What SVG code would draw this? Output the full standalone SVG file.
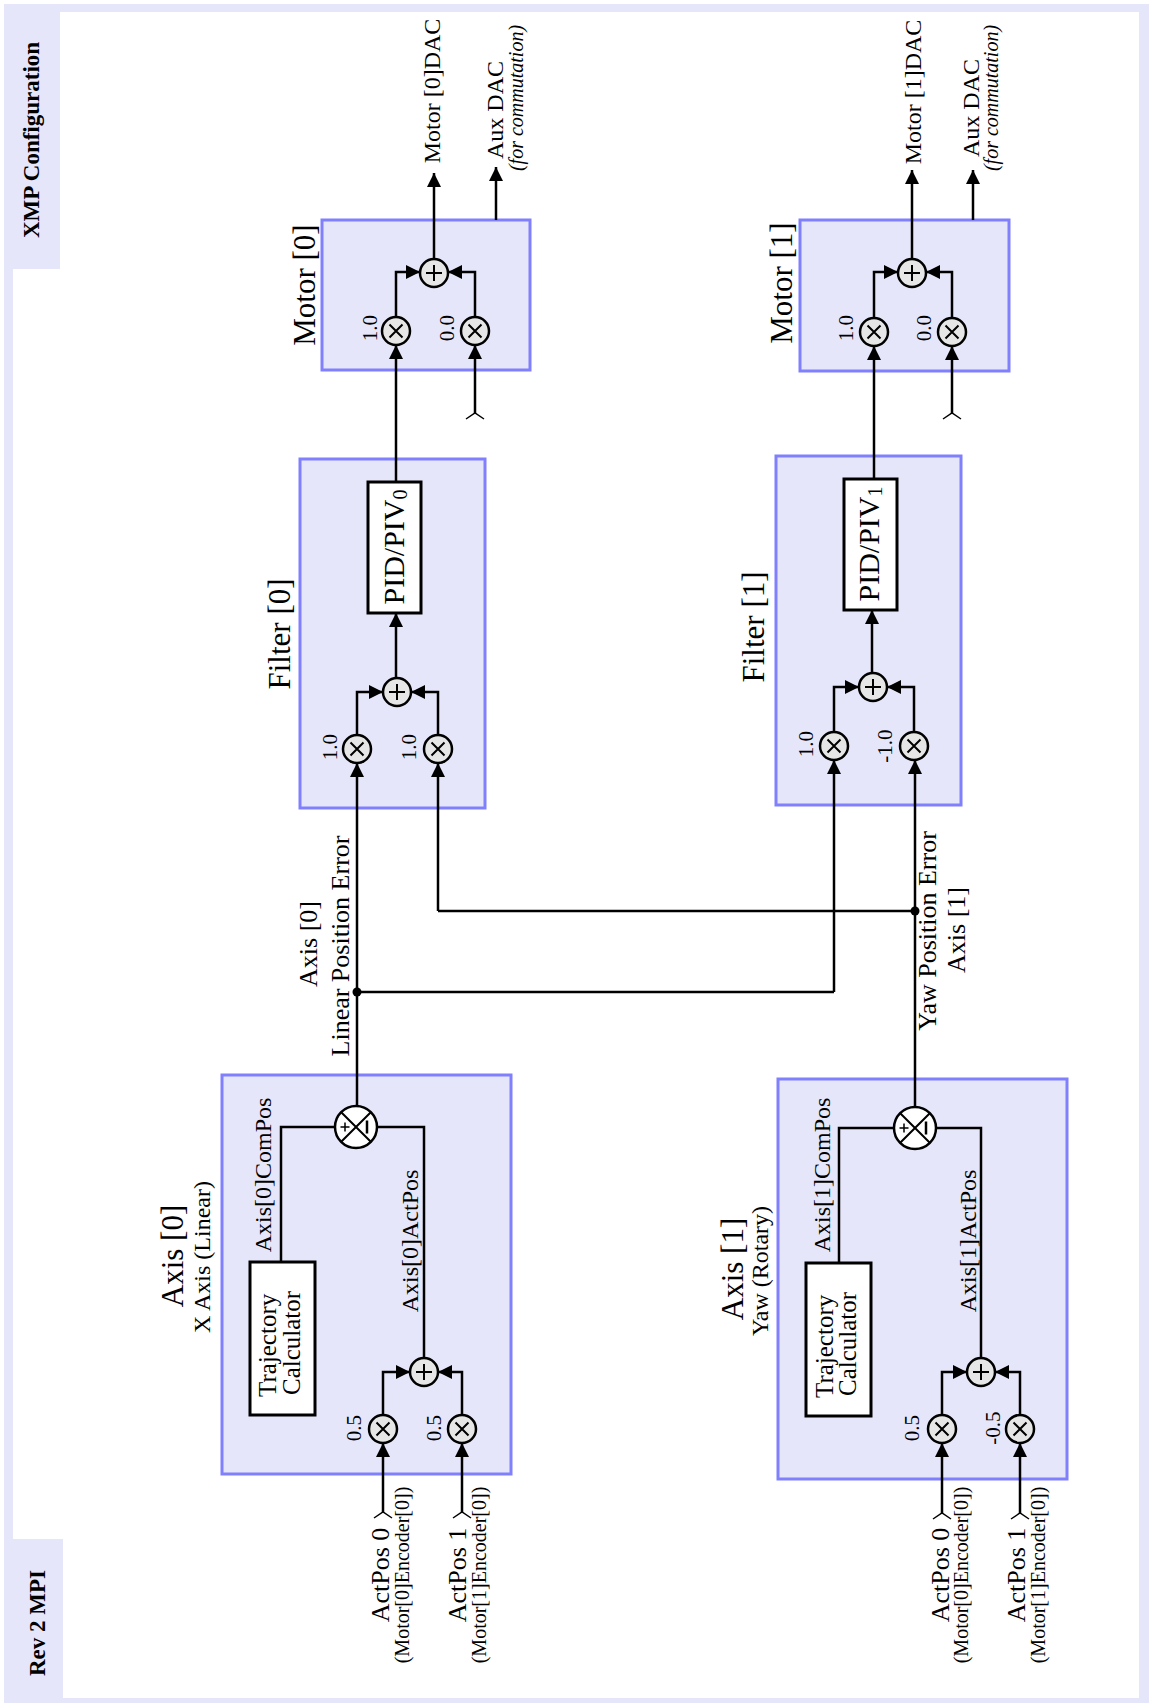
<svg xmlns="http://www.w3.org/2000/svg" xmlns:xlink="http://www.w3.org/1999/xlink" width="1149" height="1703" viewBox="0 0 1149 1703">
<style>
text{font-family:"Liberation Serif","Times New Roman",serif;fill:#000;dominant-baseline:central;text-anchor:middle}
.bold{font-weight:bold;font-size:23px}
.title{font-size:31px}
.sub{font-size:24px}
.mid{font-size:26px}
.small{font-size:20px}
.gain{font-size:21px}
.ital{font-size:20px;font-style:italic}
.traj{font-size:25px;text-anchor:start}
.box{fill:#e6e6fa;stroke:#8080ff;stroke-width:3}
.blk{fill:#fff;stroke:#000;stroke-width:3}
.ln{fill:none;stroke:#000;stroke-width:2.5}
.arr{fill:none;stroke:#000;stroke-width:2.5;marker-end:url(#ah)}
.stub{fill:none;stroke:#000;stroke-width:1.5}
.sym{fill:#e6e6e6;stroke:#000;stroke-width:2.5}
.in{fill:none;stroke:#000;stroke-width:2}
</style>
<defs>
<marker id="ah" viewBox="0 0 14 14" refX="14" refY="7" markerWidth="14" markerHeight="14" markerUnits="userSpaceOnUse" orient="auto">
<path d="M0,0 L14,7 L0,14 z" fill="#000"/>
</marker>
<g id="mul"><circle r="14" class="sym"/><path d="M-6.5,-6.5 L6.5,6.5 M-6.5,6.5 L6.5,-6.5" class="in"/></g>
<g id="add"><circle r="14" class="sym"/><path d="M-8,0 H8 M0,-8 V8" class="in"/></g>
<g id="junc"><circle r="21" fill="#fff" stroke="#000" stroke-width="2.5"/><path d="M-14.8,-14.8 L14.8,14.8 M-14.8,14.8 L14.8,-14.8" class="in"/><path d="M-15.5,0 H-6.5 M-11,-4.5 V4.5" fill="none" stroke="#000" stroke-width="1.5"/><path d="M11,-6.5 V6.5" fill="none" stroke="#000" stroke-width="2.5"/></g>
</defs>

<!-- frame -->
<g id="frame">
<rect x="4" y="4" width="1145" height="1699" fill="#e6e6fa"/>
<rect x="13" y="12" width="1126" height="1686" fill="#fff"/>
<rect x="13" y="12" width="47" height="257" fill="#e6e6fa"/>
<rect x="13" y="1539" width="50" height="159" fill="#e6e6fa"/>
<text class="bold" transform="translate(31 140) rotate(-90)">XMP Configuration</text>
<text class="bold" transform="translate(37 1623) rotate(-90)">Rev 2 MPI</text>
</g>

<!-- Motor [0] -->
<g id="motor0">
<rect class="box" x="322" y="220" width="208" height="150"/>
<text class="title" transform="translate(304 285) rotate(-90)">Motor [0]</text>
<use xlink:href="#add" x="434" y="273"/>
<use xlink:href="#mul" x="396" y="331"/>
<use xlink:href="#mul" x="475" y="331"/>
<text class="gain" transform="translate(370 328) rotate(-90)">1.0</text>
<text class="gain" transform="translate(447 328) rotate(-90)">0.0</text>
<text class="sub" transform="translate(432 91) rotate(-90)">Motor [0]DAC</text>
<text class="sub" transform="translate(495 110) rotate(-90)">Aux DAC</text>
<text class="ital" transform="translate(516 98) rotate(-90)">(for commutation)</text>
</g>

<!-- Motor [1] -->
<g id="motor1">
<rect class="box" x="800" y="220" width="209" height="151"/>
<text class="title" transform="translate(781 283) rotate(-90)">Motor [1]</text>
<use xlink:href="#add" x="912" y="273"/>
<use xlink:href="#mul" x="874" y="332"/>
<use xlink:href="#mul" x="952" y="332"/>
<text class="gain" transform="translate(846 328) rotate(-90)">1.0</text>
<text class="gain" transform="translate(924 328) rotate(-90)">0.0</text>
<text class="sub" transform="translate(913 92) rotate(-90)">Motor [1]DAC</text>
<text class="sub" transform="translate(971 108) rotate(-90)">Aux DAC</text>
<text class="ital" transform="translate(991 98) rotate(-90)">(for commutation)</text>
</g>

<!-- Filter [0] -->
<g id="filter0">
<rect class="box" x="300" y="459" width="185" height="349"/>
<text class="title" transform="translate(279 634) rotate(-90)">Filter [0]</text>
<rect class="blk" x="368" y="482" width="53" height="131"/>
<text class="title" style="font-size:30px" transform="translate(393 547) rotate(-90)">PID/PIV<tspan font-size="20" dy="7">0</tspan></text>
<use xlink:href="#add" x="397" y="692"/>
<use xlink:href="#mul" x="357" y="749"/>
<use xlink:href="#mul" x="438" y="749"/>
<text class="gain" transform="translate(330 747) rotate(-90)">1.0</text>
<text class="gain" transform="translate(409 747) rotate(-90)">1.0</text>
</g>

<!-- Filter [1] -->
<g id="filter1">
<rect class="box" x="776" y="456" width="185" height="349"/>
<text class="title" transform="translate(753 627) rotate(-90)">Filter [1]</text>
<rect class="blk" x="844" y="479" width="53" height="131"/>
<text class="title" style="font-size:30px" transform="translate(868 544) rotate(-90)">PID/PIV<tspan font-size="20" dy="7">1</tspan></text>
<use xlink:href="#add" x="873" y="687"/>
<use xlink:href="#mul" x="834" y="746"/>
<use xlink:href="#mul" x="914" y="746"/>
<text class="gain" transform="translate(806 744) rotate(-90)">1.0</text>
<text class="gain" transform="translate(885 746) rotate(-90)">-1.0</text>
</g>

<!-- Axis [0] -->
<g id="axis0">
<rect class="box" x="222" y="1075" width="289" height="399"/>
<text class="title" transform="translate(172 1256) rotate(-90)">Axis [0]</text>
<text class="sub" transform="translate(202 1257) rotate(-90)">X Axis (Linear)</text>
<rect class="blk" x="250" y="1262" width="65" height="153"/>
<text class="traj" transform="translate(267 1397) rotate(-90)">Trajectory</text>
<text class="traj" transform="translate(291 1395) rotate(-90)">Calculator</text>
<text class="sub" transform="translate(263 1175) rotate(-90)">Axis[0]ComPos</text>
<text class="sub" transform="translate(410 1241) rotate(-90)">Axis[0]ActPos</text>
<use xlink:href="#junc" x="356" y="1127"/>
<use xlink:href="#add" x="424" y="1372"/>
<use xlink:href="#mul" x="383" y="1429"/>
<use xlink:href="#mul" x="462" y="1429"/>
<text class="gain" transform="translate(354 1428) rotate(-90)">0.5</text>
<text class="gain" transform="translate(434 1428) rotate(-90)">0.5</text>
<text class="mid" transform="translate(380 1575) rotate(-90)">ActPos 0</text>
<text class="small" transform="translate(402 1575) rotate(-90)">(Motor[0]Encoder[0])</text>
<text class="mid" transform="translate(457 1575) rotate(-90)">ActPos 1</text>
<text class="small" transform="translate(479 1575) rotate(-90)">(Motor[1]Encoder[0])</text>
</g>

<!-- Axis [1] -->
<g id="axis1">
<rect class="box" x="778" y="1079" width="289" height="400"/>
<text class="title" transform="translate(732 1269) rotate(-90)">Axis [1]</text>
<text class="sub" transform="translate(760 1271) rotate(-90)">Yaw (Rotary)</text>
<rect class="blk" x="806" y="1263" width="65" height="153"/>
<text class="traj" transform="translate(824 1398) rotate(-90)">Trajectory</text>
<text class="traj" transform="translate(847 1396) rotate(-90)">Calculator</text>
<text class="sub" transform="translate(822 1175) rotate(-90)">Axis[1]ComPos</text>
<text class="sub" transform="translate(968 1241) rotate(-90)">Axis[1]ActPos</text>
<use xlink:href="#junc" x="915" y="1128"/>
<use xlink:href="#add" x="981" y="1372"/>
<use xlink:href="#mul" x="942" y="1429"/>
<use xlink:href="#mul" x="1020" y="1429"/>
<text class="gain" transform="translate(912 1428) rotate(-90)">0.5</text>
<text class="gain" transform="translate(993 1428) rotate(-90)">-0.5</text>
<text class="mid" transform="translate(940 1575) rotate(-90)">ActPos 0</text>
<text class="small" transform="translate(961 1575) rotate(-90)">(Motor[0]Encoder[0])</text>
<text class="mid" transform="translate(1016 1575) rotate(-90)">ActPos 1</text>
<text class="small" transform="translate(1038 1575) rotate(-90)">(Motor[1]Encoder[0])</text>
</g>

<!-- connectors -->
<g id="connectors">
<!-- Motor 0 -->
<path class="arr" d="M434,259 V173"/>
<path class="arr" d="M496,220 V167"/>
<path class="arr" d="M396,317 V272 H420"/>
<path class="arr" d="M475,317 V272 H448"/>
<path class="arr" d="M396,482 V345"/>
<path class="arr" d="M475,413 V345"/>
<path class="stub" d="M466,419 L475,413 L484,419"/>
<!-- Motor 1 -->
<path class="arr" d="M912,259 V170"/>
<path class="arr" d="M973,220 V170"/>
<path class="arr" d="M874,318 V272 H898"/>
<path class="arr" d="M952,318 V272 H926"/>
<path class="arr" d="M874,479 V346"/>
<path class="arr" d="M952,413 V346"/>
<path class="stub" d="M943,419 L952,413 L961,419"/>
<!-- Filter 0 -->
<path class="arr" d="M396,678 V613"/>
<path class="arr" d="M357,735 V692 H383"/>
<path class="arr" d="M438,735 V692 H411"/>
<path class="arr" d="M357,1106 V763"/>
<path class="arr" d="M438,911 V763"/>
<!-- Filter 1 -->
<path class="arr" d="M872,673 V610"/>
<path class="arr" d="M834,732 V687 H859"/>
<path class="arr" d="M914,732 V687 H887"/>
<path class="arr" d="M915,1107 V760"/>
<path class="arr" d="M834,992 V760"/>
<!-- cross links -->
<path class="ln" d="M357,992 H834"/>
<path class="ln" d="M915,911 H438"/>
<circle cx="357" cy="992" r="4.5" fill="#000"/>
<circle cx="915" cy="911" r="4.5" fill="#000"/>
<!-- Axis 0 -->
<path class="ln" d="M281,1262 V1127 H335"/>
<path class="ln" d="M377,1127 H424 V1358"/>
<path class="arr" d="M383,1415 V1372 H410"/>
<path class="arr" d="M462,1415 V1372 H438"/>
<path class="arr" d="M383,1512 V1443"/>
<path class="arr" d="M462,1512 V1443"/>
<path class="stub" d="M374,1518 L383,1512 L392,1518"/>
<path class="stub" d="M453,1518 L462,1512 L471,1518"/>
<!-- Axis 1 -->
<path class="ln" d="M839,1263 V1128 H894"/>
<path class="ln" d="M936,1128 H981 V1358"/>
<path class="arr" d="M942,1415 V1372 H967"/>
<path class="arr" d="M1020,1415 V1372 H995"/>
<path class="arr" d="M942,1513 V1443"/>
<path class="arr" d="M1020,1513 V1443"/>
<path class="stub" d="M933,1519 L942,1513 L951,1519"/>
<path class="stub" d="M1011,1519 L1020,1513 L1029,1519"/>
</g>

<!-- signal labels -->
<g id="errlabels">
<text class="mid" transform="translate(308 944) rotate(-90)">Axis [0]</text>
<text class="mid" transform="translate(340 946) rotate(-90)">Linear Position Error</text>
<text class="mid" transform="translate(927 931) rotate(-90)">Yaw Position Error</text>
<text class="mid" transform="translate(956 930) rotate(-90)">Axis [1]</text>
</g>
</svg>
